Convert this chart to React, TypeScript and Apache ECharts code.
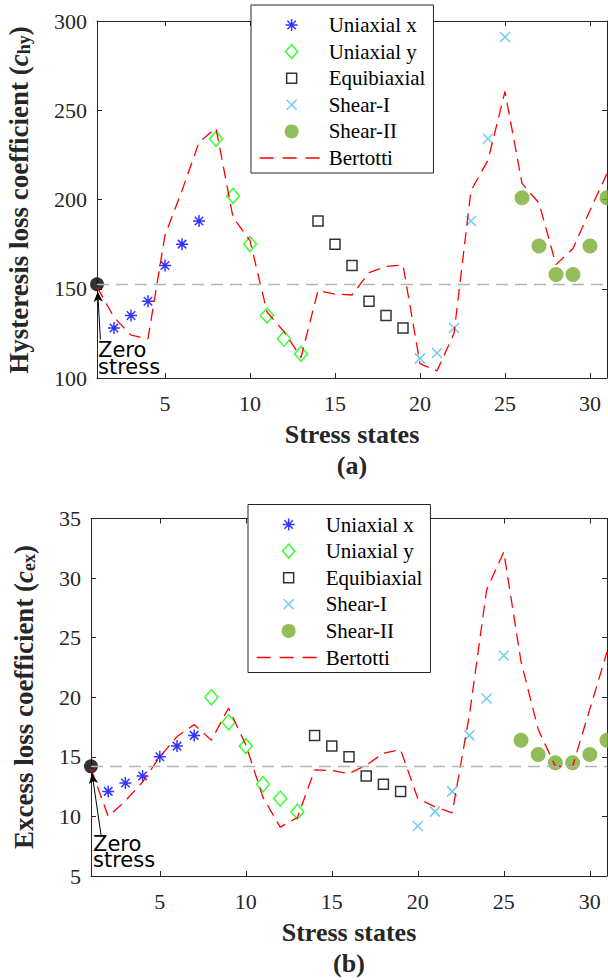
import React, { useEffect, useRef } from "react";
import * as echarts from "echarts";

// ---------- data ----------
const statesAll = [1, 2, 3, 4, 5, 6, 7, 8, 9, 10, 11, 12, 13, 14, 15, 16, 17, 18, 19, 20, 21, 22, 23, 24, 25, 26, 27, 28, 29, 30, 31];
const statesUniX = [2, 3, 4, 5, 6, 7];
const statesUniY = [8, 9, 10, 11, 12, 13];
const statesEqui = [14, 15, 16, 17, 18, 19];
const statesShearI = [20, 21, 22, 23, 24, 25];
const statesShearII = [26, 27, 28, 29, 30, 31];
const statesZero = [1];
const xTickLabels = [5, 10, 15, 20, 25, 30];

// (a) hysteresis loss coefficient
const hyUniX = [128, 135, 143, 163, 175, 188];
const hyUniY = [234, 202, 175, 135, 122, 113.5];
const hyEqui = [188, 175, 163, 143, 135, 128];
const hyShearI = [111, 114, 128, 188, 234, 291];
const hyShearII = [201, 174, 158, 158, 174, 201];
const hyZero = [152.5];
const hyBertotti = [151, 134, 124, 122, 180, 205, 232, 240, 190, 177, 137, 126, 111.5, 149, 147, 146.5, 159, 162.5, 163.3, 108, 104, 125, 205, 222, 260.5, 209, 198, 163.5, 172.5, 194, 214.5];
const hyArrow = [[1.2, 121.5], [1.04, 148.3]];

// (b) excess loss coefficient
const exUniX = [12.1, 12.8, 13.4, 15.0, 15.9, 16.8];
const exUniY = [20.0, 17.9, 15.9, 12.7, 11.5, 10.4];
const exEqui = [16.8, 15.9, 15.0, 13.4, 12.7, 12.1];
const exShearI = [9.2, 10.4, 12.1, 16.8, 19.9, 23.5];
const exShearII = [16.4, 15.2, 14.5, 14.5, 15.2, 16.4];
const exZero = [14.2];
const exBertotti = [14.0, 10.0, 11.3, 12.9, 15.0, 16.7, 17.7, 16.4, 19.1, 16.0, 11.6, 9.1, 9.9, 13.9, 13.85, 13.6, 14.3, 15.3, 15.6, 11.5, 10.8, 10.3, 18.5, 29.0, 32.2, 23.0, 17.3, 14.2, 14.2, 19.0, 23.8];
const exArrow = [[1.6, 8.3], [1.06, 13.6]];

const legendNames = ["Uniaxial x", "Uniaxial y", "Equibiaxial", "Shear-I", "Shear-II", "Bertotti"];

// ---------- styles ----------
const SERIF = "'Liberation Serif', 'Times New Roman', serif";
const SANS = "'DejaVu Sans', sans-serif";
const AX = "#262626";

const SYM_AST = "path://M0,-6L0,6M-6,0L6,0M-4.24,-4.24L4.24,4.24M-4.24,4.24L4.24,-4.24";
const SYM_DIA = "path://M0,-7.5L6.5,0L0,7.5L-6.5,0Z";
const SYM_SQ = "path://M-5,-5L5,-5L5,5L-5,5Z";
const SYM_X = "path://M-5,-5L5,5M-5,5L5,-5";
const LEG_AST = "path://M-7,-7M7,7M0,-6L0,6M-6,0L6,0M-4.24,-4.24L4.24,4.24M-4.24,4.24L4.24,-4.24";
const LEG_SQ = "path://M-7,-7M7,7M-5,-5L5,-5L5,5L-5,5Z";
const LEG_X = "path://M-7,-7M7,7M-5,-5L5,5M-5,5L5,-5";

const pts = (xs: number[], ys: number[]) => xs.map((x, i) => [x, ys[i]]);

function xAxes(gi: number) {
  const base = (pos: string) => ({
    type: "value",
    gridIndex: gi,
    position: pos,
    min: 1,
    max: 31,
    axisLine: { show: true, onZero: false, lineStyle: { color: AX, width: 1 } },
    axisTick: { show: true, inside: true, length: 5, customValues: xTickLabels, lineStyle: { color: AX } },
    axisLabel:
      pos === "bottom"
        ? { show: true, customValues: xTickLabels, fontFamily: SERIF, fontSize: 22, color: AX, margin: 14 }
        : { show: false },
    splitLine: { show: false },
  });
  return [base("bottom"), base("top")];
}

function yAxes(gi: number, min: number, max: number, interval: number) {
  const base = (pos: string) => ({
    type: "value",
    gridIndex: gi,
    position: pos,
    min,
    max,
    interval,
    axisLine: { show: true, onZero: false, lineStyle: { color: AX, width: 1 } },
    axisTick: { show: true, inside: true, length: 5, lineStyle: { color: AX } },
    axisLabel:
      pos === "left"
        ? { show: true, fontFamily: SERIF, fontSize: 22, color: AX, margin: 10 }
        : { show: false },
    splitLine: { show: false },
  });
  return [base("left"), base("right")];
}

function panelSeries(gi: number, d: any) {
  const xi = 2 * gi;
  const common = { xAxisIndex: xi, yAxisIndex: xi, clip: false, silent: true, emphasis: { disabled: true } };
  return [
    {
      ...common,
      type: "scatter",
      name: "Zero stress",
      data: pts(statesZero, d.zero),
      symbol: "circle",
      symbolSize: 14,
      itemStyle: { color: "#000" },
      z: 1,
      markLine: {
        silent: true,
        symbol: ["none", "none"],
        label: { show: false },
        data: [
          { yAxis: d.zero[0], lineStyle: { color: "#b4b4b4", type: [12, 7], width: 1.3 } },
          [
            { coord: d.arrow[0], symbol: "none", lineStyle: { color: "#000", width: 1, type: "solid" } },
            { coord: d.arrow[1], symbol: "arrow", symbolSize: [7, 10] },
          ],
        ],
      },
    },
    {
      ...common,
      type: "scatter",
      name: "Uniaxial x",
      data: pts(statesUniX, d.uniX),
      symbol: SYM_AST,
      symbolSize: 12,
      itemStyle: { color: "none", borderColor: "#0000ff", borderWidth: 1.5 },
      z: 3,
    },
    {
      ...common,
      type: "scatter",
      name: "Uniaxial y",
      data: pts(statesUniY, d.uniY),
      symbol: SYM_DIA,
      symbolSize: [13, 15],
      itemStyle: { color: "none", borderColor: "#00ff00", borderWidth: 1.5 },
      z: 3,
    },
    {
      ...common,
      type: "scatter",
      name: "Equibiaxial",
      data: pts(statesEqui, d.equi),
      symbol: SYM_SQ,
      symbolSize: 10,
      itemStyle: { color: "none", borderColor: "#000000", borderWidth: 1.5 },
      z: 3,
    },
    {
      ...common,
      type: "scatter",
      name: "Shear-I",
      data: pts(statesShearI, d.shearI),
      symbol: SYM_X,
      symbolSize: 10,
      itemStyle: { color: "none", borderColor: "#4dbeee", borderWidth: 1.5 },
      z: 3,
    },
    {
      ...common,
      type: "scatter",
      name: "Shear-II",
      data: pts(statesShearII, d.shearII),
      symbol: "circle",
      symbolSize: 15,
      itemStyle: { color: "#77ac30", borderWidth: 0 },
      z: 3,
    },
    {
      xAxisIndex: xi,
      yAxisIndex: xi,
      silent: true,
      type: "line",
      name: "Bertotti",
      data: pts(statesAll, d.bertotti),
      symbol: "none",
      showSymbol: false,
      lineStyle: { color: "#ff0000", width: 1.3, type: [12, 7] },
      itemStyle: { color: "#ff0000" },
      z: 4,
    },
  ];
}

const legendData = [
  { name: legendNames[0], icon: LEG_AST },
  { name: legendNames[1], icon: SYM_DIA },
  { name: legendNames[2], icon: LEG_SQ },
  { name: legendNames[3], icon: LEG_X },
  { name: legendNames[4], icon: "circle", itemStyle: { borderWidth: 0 } },
  { name: legendNames[5], itemStyle: { opacity: 0 }, lineStyle: { type: [14, 9], width: 1.3 } },
];

function legendAt(left: number, top: number) {
  return {
    orient: "vertical",
    left,
    top,
    data: legendData,
    itemWidth: 64,
    itemHeight: 14,
    itemGap: 5.6,
    padding: [9.5, 8, 4.5, 8],
    backgroundColor: "#ffffff",
    borderColor: AX,
    borderWidth: 1,
    borderRadius: 0,
    selectedMode: false,
    textStyle: { fontFamily: SERIF, fontSize: 21, color: "#000" },
    itemStyle: { borderWidth: 1.5 },
    lineStyle: { width: 1.3 },
  };
}

function yTitle(x: number, y: number, main: string, sub: string) {
  const t = { fontFamily: SERIF, fontWeight: "bold", fontSize: 27, fill: AX, verticalAlign: "top", lineHeight: 28 };
  return {
    type: "text",
    x,
    y,
    rotation: Math.PI / 2,
    silent: true,
    style: {
      text: `{t|${main} (}{i|c}{s|${sub}}{t|)}`,
      align: "center",
      verticalAlign: "middle",
      rich: {
        t,
        i: { ...t, fontStyle: "italic" },
        s: { fontFamily: SERIF, fontWeight: "bold", fontSize: 18, fill: AX, verticalAlign: "bottom", lineHeight: 18, padding: [15, 0, 0, 0] },
      },
    },
  };
}

function boldText(x: number, y: number, text: string) {
  return {
    type: "text",
    x,
    y,
    silent: true,
    style: { text, fontFamily: SERIF, fontWeight: "bold", fontSize: 26, fill: AX, align: "center", verticalAlign: "middle" },
  };
}

function lineText(x: number, y: number, text: string) {
  return {
    type: "text",
    x,
    y,
    silent: true,
    style: { text, fontFamily: SANS, fontSize: 21, lineHeight: 16, fill: "#000", align: "left", verticalAlign: "top" },
  };
}

export default function App() {
  const ref = useRef<HTMLDivElement>(null);
  useEffect(() => {
    if (!ref.current) return;
    const chart = echarts.init(ref.current, undefined, { renderer: "svg" });
    const dA = { uniX: hyUniX, uniY: hyUniY, equi: hyEqui, shearI: hyShearI, shearII: hyShearII, zero: hyZero, bertotti: hyBertotti, arrow: hyArrow };
    const dB = { uniX: exUniX, uniY: exUniY, equi: exEqui, shearI: exShearI, shearII: exShearII, zero: exZero, bertotti: exBertotti, arrow: exArrow };
    chart.setOption({
      animation: false,
      backgroundColor: "#ffffff",
      grid: [
        { left: 97, top: 21, width: 510, height: 357, containLabel: false },
        { left: 91, top: 518.5, width: 516, height: 357.5, containLabel: false },
      ],
      xAxis: [...xAxes(0), ...xAxes(1)],
      yAxis: [...yAxes(0, 100, 300, 50), ...yAxes(1, 5, 35, 5)],
      legend: [legendAt(251, 5), legendAt(248, 504.5)],
      series: [...panelSeries(0, dA), ...panelSeries(1, dB)],
      graphic: [
        yTitle(19, 200, "Hysteresis loss coefficient", "hy"),
        yTitle(24, 697, "Excess loss coefficient", "ex"),
        boldText(352, 434.5, "Stress states"),
        boldText(352, 465, "(a)"),
        boldText(349, 932, "Stress states"),
        boldText(349, 963, "(b)"),
        lineText(98, 342, "Zero"),
        lineText(98, 359, "stress"),
        lineText(93, 836, "Zero"),
        lineText(93, 852, "stress"),
      ],
    });
    return () => chart.dispose();
  }, []);
  return <div ref={ref} style={{ position: "absolute", left: 0, top: 0, width: 608, height: 980 }} />;
}
